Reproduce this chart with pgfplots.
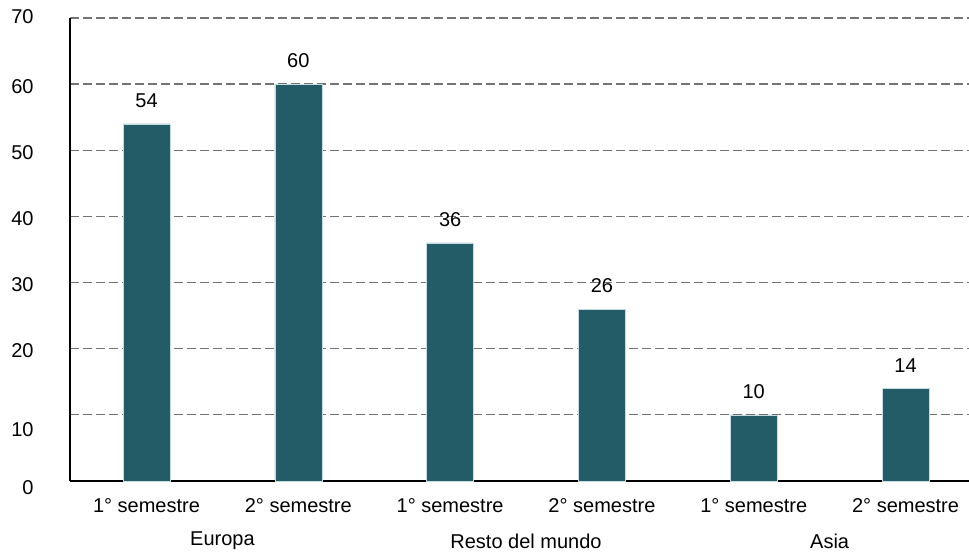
\documentclass[border=0pt]{standalone}
\usepackage{fontspec}
\setmainfont{Liberation Sans}
\usepackage{pgfplots}
\pgfplotsset{compat=1.18}
\definecolor{barc}{HTML}{235B66}
\definecolor{gridc}{HTML}{747474}
\definecolor{edgec}{HTML}{C4DCE2}
\begin{document}
\begin{tikzpicture}[font=\fontsize{10}{12}\selectfont]
\begin{axis}[
  scale only axis, width=449.5pt, height=231.5pt,
  xmin=-0.504, xmax=5.418, ymin=0, ymax=70,
  clip=false,
  axis x line*=bottom, axis y line*=left,
  axis line style={black, line width=0.6pt, -},
  ybar, bar width=23.5pt,
  xtick={0,1,2,3,4,5},
  xticklabels={1° semestre,2° semestre,1° semestre,2° semestre,1° semestre,2° semestre},
  major x tick style={draw=none},
  xticklabel style={yshift=-1pt},
  extra x ticks={1.5,3.5}, extra x tick labels={},
  extra x tick style={major tick length=3pt, tick align=outside, major tick style={draw=black, line width=0.6pt}},
  ytick={0,10,20,30,40,50,60,70},
  yticklabels={\raisebox{-2.5pt}[\height][\depth]{0},\raisebox{-6.5pt}[\height][\depth]{10},20,30,40,50,60,\raisebox{1.5pt}[\height][\depth]{70}},
  yticklabel style={xshift=-14.7pt, yshift=-1pt},
  major y tick style={draw=none},
  ymajorgrids, major grid style={draw=gridc, dash pattern=on 4.5pt off 2pt, line width=0.65pt},
  /pgf/number format/assume math mode=true,
  nodes near coords,
  nodes near coords style={yshift=4.5pt, color=black},
]
\addplot[fill=barc, draw=edgec, line width=0.3pt] coordinates {(0,54) (1,60) (2,36) (3,26) (4,10) (5,14)};
\node at (axis cs:0.5,0) [yshift=-30pt] {Europa};
\node at (axis cs:2.5,0) [yshift=-30pt] {Resto del mundo};
\node at (axis cs:4.5,0) [yshift=-30pt] {Asia};
\coordinate (bl) at (rel axis cs:0,0);
\coordinate (tr) at (rel axis cs:1,1);
\end{axis}
\pgfresetboundingbox
\path ([shift={(-35pt,-36.5pt)}]bl) rectangle ([shift={(0pt,9pt)}]tr);
\end{tikzpicture}
\end{document}
